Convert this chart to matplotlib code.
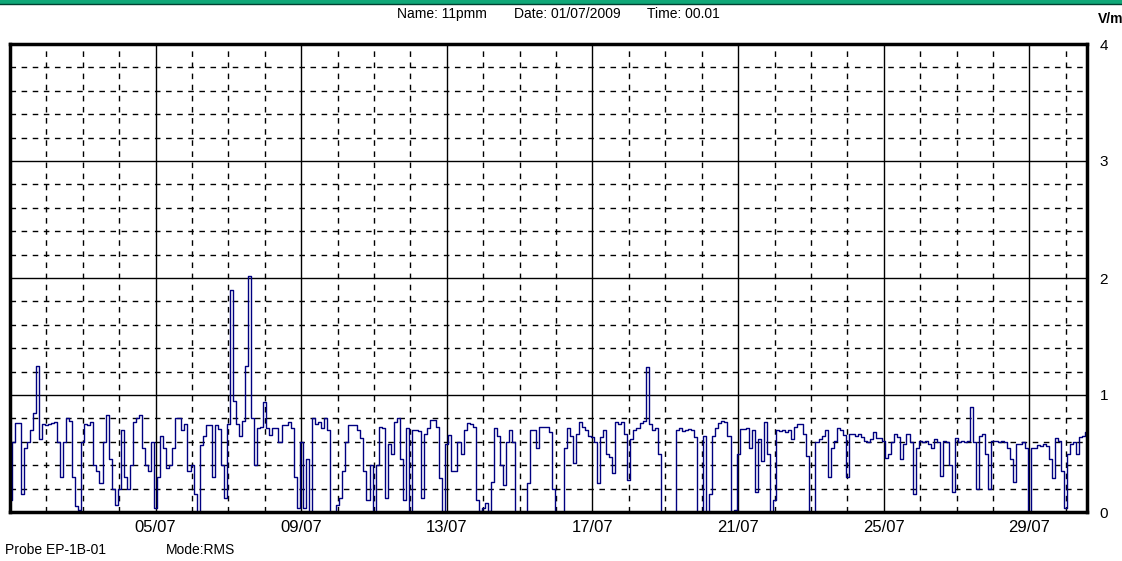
import matplotlib
matplotlib.use("Agg")
import matplotlib.pyplot as plt
from matplotlib.ticker import MultipleLocator, FixedLocator, FixedFormatter
import numpy as np

# RMS field strength (V/m), one value every 2 hours starting 01/07 00:00
week1 = [
    [0.1, 0.6, 0.76, 0.76, 0.15, 0.55, 0.6, 0.7, 0.85, 1.25, 0.62, 0.75],
    [0.74, 0.75, 0.76, 0.77, 0.6, 0.3, 0.6, 0.8, 0.78, 0.3, 0.05, 0.02],
    [0.6, 0.75, 0.74, 0.77, 0.4, 0.35, 0.25, 0.6, 0.83, 0.45, 0.2, 0.06],
    [0.2, 0.7, 0.3, 0.2, 0.4, 0.77, 0.8, 0.83, 0.55, 0.4, 0.35, 0.6],
    [0.03, 0.3, 0.65, 0.55, 0.38, 0.4, 0.55, 0.8, 0.8, 0.7, 0.75, 0.35],
    [0.4, 0.15, 0.0, 0.57, 0.65, 0.74, 0.74, 0.3, 0.74, 0.71, 0.4, 0.12],
    [0.75, 1.9, 0.95, 0.75, 0.65, 0.78, 1.25, 2.02, 0.8, 0.4, 0.72, 0.73],
]
week2 = [
    [0.94, 0.72, 0.66, 0.72, 0.72, 0.6, 0.74, 0.74, 0.77, 0.72, 0.3, 0.03],
    [0.6, 0.03, 0.45, 0.0, 0.8, 0.75, 0.77, 0.72, 0.8, 0.7, 0.0, 0.0],
    [0.06, 0.12, 0.35, 0.6, 0.74, 0.74, 0.74, 0.7, 0.63, 0.35, 0.1, 0.4],
    [0.0, 0.4, 0.73, 0.72, 0.12, 0.58, 0.5, 0.77, 0.8, 0.45, 0.1, 0.72],
    [0.0, 0.7, 0.7, 0.69, 0.12, 0.67, 0.72, 0.79, 0.79, 0.73, 0.29, 0.0],
    [0.58, 0.66, 0.35, 0.35, 0.6, 0.5, 0.7, 0.76, 0.75, 0.73, 0.1, 0.01],
    [0.03, 0.08, 0.01, 0.26, 0.72, 0.65, 0.4, 0.23, 0.6, 0.7, 0.6, 0.0],
]
week3 = [
    [0.0, 0.0, 0.0, 0.25, 0.7, 0.7, 0.55, 0.73, 0.73, 0.73, 0.68, 0.2],
    [0.0, 0.0, 0.0, 0.55, 0.72, 0.65, 0.42, 0.67, 0.77, 0.73, 0.7, 0.65],
    [0.64, 0.6, 0.25, 0.64, 0.7, 0.5, 0.47, 0.33, 0.77, 0.75, 0.77, 0.67],
    [0.27, 0.62, 0.7, 0.72, 0.76, 0.78, 1.24, 0.75, 0.7, 0.72, 0.5, 0.0],
    [0.0, 0.0, 0.0, 0.0, 0.7, 0.72, 0.69, 0.7, 0.71, 0.7, 0.64, 0.0],
    [0.0, 0.65, 0.0, 0.15, 0.65, 0.72, 0.76, 0.78, 0.77, 0.65, 0.0, 0.02],
    [0.5, 0.71, 0.71, 0.72, 0.55, 0.7, 0.17, 0.62, 0.44, 0.77, 0.5, 0.0],
]
week4 = [
    [0.1, 0.7, 0.69, 0.7, 0.68, 0.7, 0.62, 0.73, 0.75, 0.75, 0.67, 0.48],
    [0.0, 0.0, 0.6, 0.62, 0.65, 0.7, 0.3, 0.55, 0.61, 0.72, 0.7, 0.66],
    [0.3, 0.67, 0.67, 0.65, 0.67, 0.64, 0.61, 0.6, 0.62, 0.68, 0.63, 0.63],
    [0.61, 0.46, 0.5, 0.6, 0.67, 0.64, 0.45, 0.58, 0.67, 0.6, 0.15, 0.55],
    [0.61, 0.6, 0.61, 0.58, 0.55, 0.62, 0.6, 0.31, 0.61, 0.6, 0.4, 0.17],
    [0.63, 0.6, 0.61, 0.6, 0.61, 0.9, 0.6, 0.2, 0.65, 0.67, 0.5, 0.2],
    [0.61, 0.61, 0.6, 0.61, 0.6, 0.55, 0.45, 0.26, 0.58, 0.58, 0.6, 0.55],
]
last_days = [
    [0.0, 0.55, 0.55, 0.57, 0.56, 0.58, 0.56, 0.45, 0.29, 0.63, 0.61, 0.35],
    [0.03, 0.5, 0.58, 0.6, 0.5, 0.64, 0.65, 0.68],
]

date_labels = ["05/07", "09/07", "13/07", "17/07", "21/07", "25/07", "29/07"]
date_days = [4, 8, 12, 16, 20, 24, 28]
y_ticks = [0, 1, 2, 3, 4]
y_labels = ["0", "1", "2", "3", "4"]

values = []
for day in week1 + week2 + week3 + week4 + last_days:
    values += day
values = np.array(values)
days = np.arange(len(values)) * 2 / 24.0

fig = plt.figure(figsize=(11.22, 5.61), dpi=100)
ax = fig.add_axes([10 / 1122, 1 - 512 / 561, 1077 / 1122, 468 / 561])

ax.plot(days, values, color="#000080", lw=1.0, drawstyle="steps-mid")
ax.set_xlim(0, days[-1])
ax.set_ylim(0, 4)

ax.xaxis.set_major_locator(FixedLocator(date_days))
ax.xaxis.set_major_formatter(FixedFormatter(date_labels))
ax.xaxis.set_minor_locator(MultipleLocator(1))
ax.yaxis.set_major_locator(FixedLocator(y_ticks))
ax.yaxis.set_major_formatter(FixedFormatter(y_labels))
ax.yaxis.set_minor_locator(MultipleLocator(0.2))
ax.yaxis.tick_right()

ax.grid(which="major", color="black", lw=1.0, ls="-")
ax.grid(which="minor", color="black", lw=1.0, ls=(0, (4, 4)))
ax.set_axisbelow(True)
ax.tick_params(which="both", length=0)
ax.tick_params(axis="x", pad=6, labelsize=12)
ax.tick_params(axis="y", pad=9, labelsize=11)
fam = ["Liberation Sans Narrow", "Liberation Sans", "DejaVu Sans"]
for lab in ax.get_xticklabels() + ax.get_yticklabels():
    lab.set_family(fam)
for s in ax.spines.values():
    s.set_linewidth(2.5)
    s.set_color("black")

fig.text(397 / 1122, 1 - 14 / 561, "Name: 11pmm", fontsize=10, family=fam, va="center")
fig.text(514 / 1122, 1 - 14 / 561, "Date: 01/07/2009", fontsize=10, family=fam, va="center")
fig.text(647 / 1122, 1 - 14 / 561, "Time: 00.01", fontsize=10, family=fam, va="center")
fig.text(1098 / 1122, 1 - 19 / 561, "V/m", fontsize=10, family=fam, weight="bold", va="center")
fig.text(5 / 1122, 1 - 550 / 561, "Probe EP-1B-01", fontsize=10, family=fam, va="center")
fig.text(166 / 1122, 1 - 550 / 561, "Mode:RMS", fontsize=10, family=fam, va="center")

# green strip along the top edge
fig.add_artist(plt.Line2D([0, 1], [1 - 1.5 / 561, 1 - 1.5 / 561], color="#10a878", lw=3))
fig.add_artist(plt.Line2D([0, 1], [1 - 3.5 / 561, 1 - 3.5 / 561], color="#004030", lw=1))

fig.savefig("out.png", dpi=100)
